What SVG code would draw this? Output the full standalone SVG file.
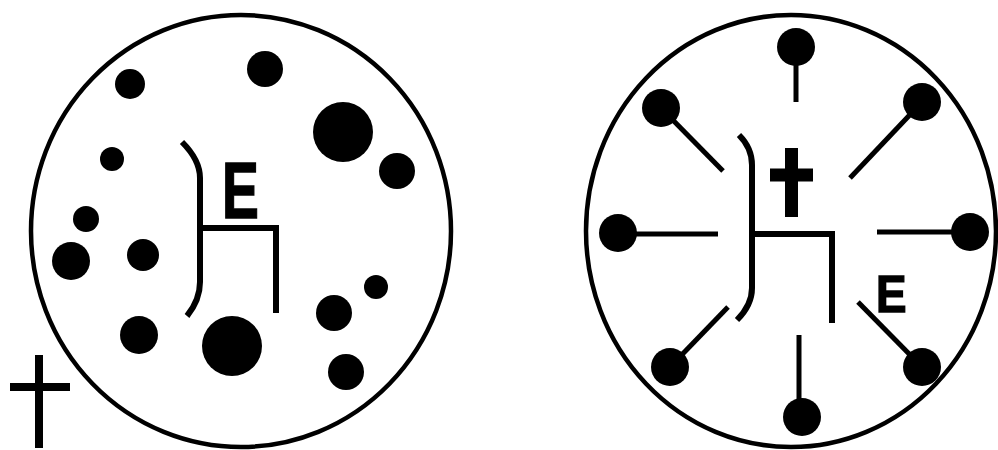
<svg xmlns="http://www.w3.org/2000/svg" width="998" height="450" viewBox="0 0 998 450">
<style>
.ring{fill:none;stroke:#000;stroke-width:4.5}
.dot{fill:#000}
.br{fill:none;stroke:#000;stroke-width:6;stroke-linecap:butt;stroke-linejoin:miter}
.ln{stroke:#000;stroke-width:5;fill:none}
.lbl{font-family:"Liberation Sans",Arial,sans-serif;font-weight:bold;fill:#000;stroke:#000;stroke-width:1.5}
</style>
<rect width="998" height="450" fill="#fff"/>
<g id="left-cell">
<ellipse class="ring" cx="241" cy="231" rx="210" ry="216"/>
<g id="left-particles">
<circle class="dot" cx="130" cy="84" r="15"/>
<circle class="dot" cx="265" cy="69" r="18"/>
<circle class="dot" cx="343" cy="132" r="30"/>
<circle class="dot" cx="397" cy="171" r="18"/>
<circle class="dot" cx="112" cy="159" r="12"/>
<circle class="dot" cx="86" cy="219" r="13"/>
<circle class="dot" cx="71" cy="261" r="19"/>
<circle class="dot" cx="143" cy="255" r="16"/>
<circle class="dot" cx="139" cy="335" r="19"/>
<circle class="dot" cx="232" cy="346" r="30"/>
<circle class="dot" cx="334" cy="313" r="18"/>
<circle class="dot" cx="376" cy="287" r="12"/>
<circle class="dot" cx="346" cy="372" r="18"/>
</g>
<g id="left-electrode">
<path class="br" d="M182,142 Q200,160 200,178 L200,282 Q200,300 187,316"/>
<path class="br" d="M200,228 L276,228 L276,313"/>
<text class="lbl" font-size="79" transform="translate(222,218) scale(0.7,1)">E</text>
</g>
</g>
<g id="left-plus">
<path d="M10,387 H70 M39,355 V448" stroke="#000" stroke-width="8" fill="none"/>
</g>
<g id="right-cell">
<ellipse class="ring" cx="791" cy="231" rx="205" ry="216"/>
<g id="right-electrode">
<path class="br" d="M739,135 Q752,148 752,165 L752,288 Q752,305 737,320"/>
<path class="br" d="M752,234 L832,234 L832,323"/>
<path d="M770,175 H813 M791.5,148 V217" stroke="#000" stroke-width="13" fill="none"/>
<text class="lbl" font-size="52" transform="translate(876,312) scale(0.88,1)">E</text>
</g>
<g id="connectors">
<line class="ln" x1="796" y1="60" x2="796" y2="102"/>
<line class="ln" x1="661" y1="108" x2="723" y2="171"/>
<line class="ln" x1="922" y1="102" x2="850" y2="178"/>
<line class="ln" x1="630" y1="234" x2="718" y2="234"/>
<line class="ln" x1="877" y1="232" x2="960" y2="232"/>
<line class="ln" x1="670" y1="367" x2="728" y2="307"/>
<line class="ln" x1="799" y1="335" x2="799" y2="410"/>
<line class="ln" x1="922" y1="367" x2="858" y2="302"/>
</g>
<g id="right-particles">
<circle class="dot" cx="796" cy="47" r="19"/>
<circle class="dot" cx="661" cy="108" r="19"/>
<circle class="dot" cx="922" cy="102" r="19"/>
<circle class="dot" cx="618" cy="233" r="19"/>
<circle class="dot" cx="970" cy="232" r="19"/>
<circle class="dot" cx="670" cy="367" r="19"/>
<circle class="dot" cx="802" cy="417" r="19"/>
<circle class="dot" cx="922" cy="367" r="19"/>
</g>
</g>
</svg>
